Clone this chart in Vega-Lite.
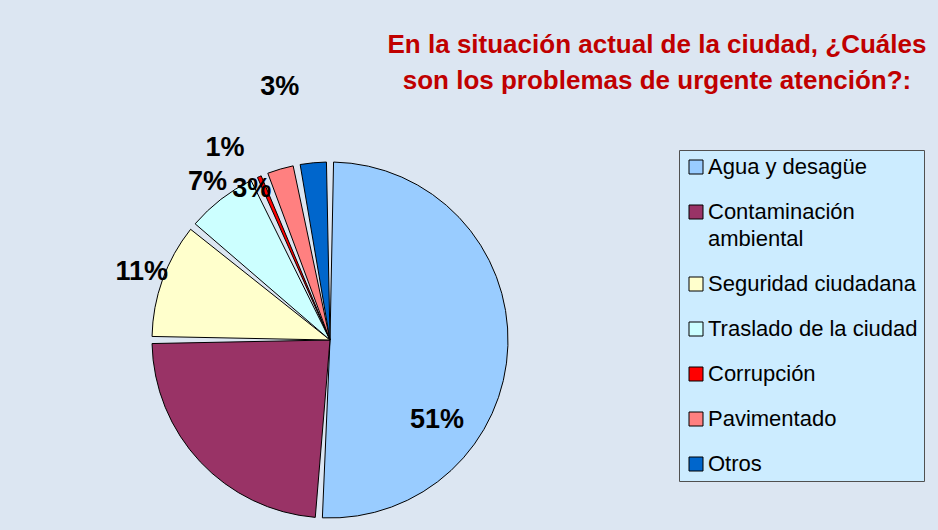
{
  "$schema": "https://vega.github.io/schema/vega-lite/v6.json",
  "autosize": "none",
  "width": 642,
  "height": 656,
  "padding": {"left": 9, "top": 12, "right": 287, "bottom": 0},
  "background": "#DCE6F2",
  "config": {
    "view": {"stroke": null},
    "text": {"font": "Liberation Sans", "fontWeight": "bold", "fontSize": 27, "color": "#000000"}
  },
  "title": {
    "text": ["En la situación actual de la ciudad, ¿Cuáles", "son los problemas de urgente atención?:"],
    "color": "#C00000",
    "font": "Liberation Sans",
    "fontWeight": "bold",
    "fontSize": 26,
    "lineHeight": 36,
    "anchor": "start",
    "align": "center",
    "baseline": "top",
    "dx": 648,
    "dy": 82,
    "offset": 0
  },
  "data": {
    "values": [
      {"problema": "Agua y desagüe", "pct": 51},
      {"problema": "Contaminación ambiental", "pct": 24},
      {"problema": "Seguridad ciudadana", "pct": 11},
      {"problema": "Traslado de la ciudad", "pct": 7},
      {"problema": "Corrupción", "pct": 1},
      {"problema": "Pavimentado", "pct": 3},
      {"problema": "Otros", "pct": 3}
    ]
  },
  "transform": [
    {"stack": "pct", "groupby": [], "as": ["v0", "v1"]},
    {"calculate": "(datum.v0 + datum.v1) / 2", "as": "mid"},
    {"calculate": "datum.pct + '%'", "as": "etiqueta"}
  ],
  "layer": [
    {
      "mark": {"type": "arc", "outerRadius": 178, "padAngle": 0.04, "stroke": "#000000", "strokeWidth": 1},
      "encoding": {
        "theta": {"field": "v0", "type": "quantitative", "stack": null, "scale": {"domain": [0, 100]}},
        "theta2": {"field": "v1"},
        "color": {
          "field": "problema",
          "type": "nominal",
          "scale": {
            "domain": ["Agua y desagüe", "Contaminación ambiental", "Seguridad ciudadana", "Traslado de la ciudad", "Corrupción", "Pavimentado", "Otros"],
            "range": ["#99CCFF", "#993366", "#FFFFCC", "#CCFFFF", "#FF0000", "#FF8080", "#0066CC"]
          },
          "legend": {
            "title": null,
            "orient": "none",
            "legendX": 670,
            "legendY": 138,
            "direction": "vertical",
            "fillColor": "#CCECFF",
            "strokeColor": "#505050",
            "padding": 6,
            "rowPadding": 23,
            "labelFont": "Liberation Sans",
            "labelFontSize": 22,
            "labelColor": "#000000",
            "labelLimit": 0,
            "labelOffset": 1,
            "symbolType": "square",
            "symbolSize": 196,
            "symbolOpacity": 1,
            "symbolStrokeColor": "#000000",
            "symbolStrokeWidth": 1,
            "labelExpr": "datum.label == 'Contaminación ambiental' ? ['Contaminación', 'ambiental'] : datum.label",
            "encode": {"labels": {"update": {"lineHeight": {"value": 27}}}}
          }
        }
      }
    },
    {
      "transform": [{"filter": "datum.problema == 'Agua y desagüe'"}],
      "mark": {"type": "text", "radius": 134, "dx": -27, "dy": 76},
      "encoding": {
        "theta": {"field": "mid", "type": "quantitative", "stack": null, "scale": {"domain": [0, 100]}},
        "text": {"field": "etiqueta"}
      }
    },
    {
      "transform": [{"filter": "datum.problema == 'Seguridad ciudadana' || datum.problema == 'Traslado de la ciudad'"}],
      "mark": {"type": "text", "radius": 200},
      "encoding": {
        "theta": {"field": "mid", "type": "quantitative", "stack": null, "scale": {"domain": [0, 100]}},
        "text": {"field": "etiqueta"}
      }
    },
    {
      "transform": [{"filter": "datum.problema == 'Pavimentado'"}],
      "mark": {"type": "text", "radius": 173, "dx": -30, "dy": 15},
      "encoding": {
        "theta": {"field": "mid", "type": "quantitative", "stack": null, "scale": {"domain": [0, 100]}},
        "text": {"field": "etiqueta"}
      }
    },
    {
      "transform": [{"filter": "datum.problema == 'Corrupción'"}],
      "mark": {"type": "text", "radius": 219, "dx": -18, "dy": 9},
      "encoding": {
        "theta": {"field": "mid", "type": "quantitative", "stack": null, "scale": {"domain": [0, 100]}},
        "text": {"field": "etiqueta"}
      }
    },
    {
      "transform": [{"filter": "datum.problema == 'Otros'"}],
      "mark": {"type": "text", "radius": 258, "dx": -26, "dy": 4},
      "encoding": {
        "theta": {"field": "mid", "type": "quantitative", "stack": null, "scale": {"domain": [0, 100]}},
        "text": {"field": "etiqueta"}
      }
    }
  ]
}
